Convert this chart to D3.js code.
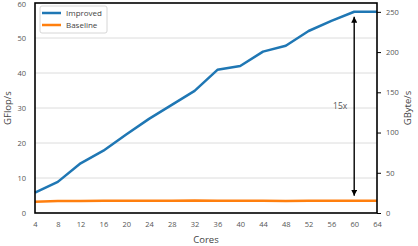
<!DOCTYPE html>
<html><head><meta charset="utf-8">
<script src="https://cdn.jsdelivr.net/npm/d3@7"></script>
<style>body{margin:0;background:#fff}svg{display:block}text{font-family:"Open Sans",sans-serif}</style>
</head><body>
<svg id="c" width="418" height="246"></svg>
<script>
const cores = [4,8,12,16,20,24,28,32,36,40,44,48,52,56,60,64];
const improved = [5.8,8.9,14.2,17.8,22.4,26.9,30.9,34.9,40.9,42,46.1,47.8,52,54.9,57.5,57.5];
const baseline = [3.2,3.4,3.4,3.5,3.5,3.5,3.5,3.6,3.5,3.5,3.5,3.4,3.5,3.5,3.5,3.5];
const xTicks = [4,8,12,16,20,24,28,32,36,40,44,48,52,56,60,64];
const leftTicks = [0,10,20,30,40,50,60];
const rightTicks = [0,50,100,150,200,250];
const seriesNames = ["Improved","Baseline"];
const colors = ["#1f77b4","#ff7f0e"];
const speedupLabel = "15x";
const arrowCore = 60;

const svg = d3.select("#c");
const L=35,R=377,T=3,B=213;
const x = d3.scaleLinear().domain([4,64]).range([L,R]);
const y = d3.scaleLinear().domain([0,60]).range([B,T]);
const y2 = d3.scaleLinear().domain([0,261]).range([B,T]);

// grid
svg.append("g").selectAll("line").data(leftTicks.filter(d=>d>0&&d<60)).join("line")
  .attr("x1",L).attr("x2",R).attr("y1",d=>y(d)).attr("y2",d=>y(d))
  .attr("stroke","#dcdcdc").attr("stroke-width",1);

const tickCol="#555";
const gl = svg.append("g").attr("transform",`translate(${L},0)`)
  .call(d3.axisLeft(y).tickValues(leftTicks).tickSize(0).tickPadding(9));
const gb = svg.append("g").attr("transform",`translate(0,${B})`)
  .call(d3.axisBottom(x).tickValues(xTicks).tickSize(0).tickPadding(9));
const gr = svg.append("g").attr("transform",`translate(${R},0)`)
  .call(d3.axisRight(y2).tickValues(rightTicks).tickSize(4).tickPadding(5));
[gl,gb,gr].forEach(g=>{
  g.select(".domain").remove();
  g.selectAll("text").attr("fill",tickCol).style("font-size","7.5px");
  g.selectAll("line").attr("stroke","#000");
});
gl.selectAll(".tick").filter(d=>d===60).select("text").attr("dy","0.45em");

// lines
const line = d3.line().x((d,i)=>x(cores[i])).y(d=>y(d));
[improved,baseline].forEach((s,k)=>{
  svg.append("path").datum(s).attr("d",line).attr("fill","none")
    .attr("stroke",colors[k]).attr("stroke-width",2.5).attr("stroke-linejoin","round");
});

// frame
svg.append("rect").attr("x",L).attr("y",T).attr("width",R-L).attr("height",B-T)
  .attr("fill","none").attr("stroke","#000").attr("stroke-width",1.6);

// arrow
const defs = svg.append("defs");
defs.append("marker").attr("id","ah").attr("viewBox","0 0 10 10").attr("refX",10).attr("refY",5)
  .attr("markerWidth",6).attr("markerHeight",6).attr("orient","auto-start-reverse")
  .attr("markerUnits","userSpaceOnUse")
  .append("path").attr("d","M0,0L10,5L0,10Z").attr("fill","#000");
const ai = cores.indexOf(arrowCore);
svg.append("line").attr("x1",x(arrowCore)).attr("x2",x(arrowCore))
  .attr("y1",y(improved[ai])+5).attr("y2",y(baseline[ai])-5)
  .attr("stroke","#000").attr("stroke-width",1.4)
  .attr("marker-start","url(#ah)").attr("marker-end","url(#ah)");
svg.append("text").attr("x",x(arrowCore)-14).attr("y",(y(improved[ai])+y(baseline[ai]))/2+3)
  .attr("text-anchor","middle").attr("fill","#555").style("font-size","8.5px").text(speedupLabel);

// axis labels
svg.append("text").attr("transform",`translate(11,${(T+B)/2}) rotate(-90)`).attr("text-anchor","middle")
  .attr("fill","#444").style("font-size","9.5px").text("GFlop/s");
svg.append("text").attr("transform",`translate(411,${(T+B)/2}) rotate(-90)`).attr("text-anchor","middle")
  .attr("fill","#444").style("font-size","9.5px").text("GByte/s");
svg.append("text").attr("x",(L+R)/2).attr("y",243).attr("text-anchor","middle")
  .attr("fill","#444").style("font-size","9.5px").text("Cores");

// legend
const lg = svg.append("g");
lg.append("rect").attr("x",40).attr("y",6).attr("width",67).attr("height",27).attr("rx",2)
  .attr("fill","#fff").attr("stroke","#ccc").attr("stroke-width",0.8);
seriesNames.forEach((n,k)=>{
  const yy = 13+k*12;
  lg.append("line").attr("x1",42).attr("x2",61).attr("y1",yy).attr("y2",yy)
    .attr("stroke",colors[k]).attr("stroke-width",2.5);
  lg.append("text").attr("x",66).attr("y",yy+3).attr("fill","#444").style("font-size","8px").text(n);
});
</script>
</body></html>
